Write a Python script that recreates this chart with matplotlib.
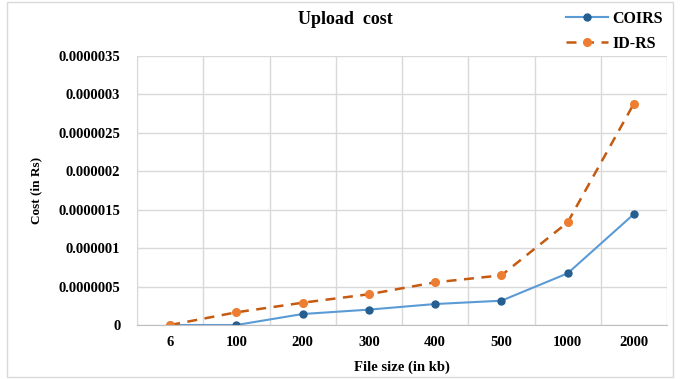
import numpy as np
import matplotlib.pyplot as plt
from matplotlib.patches import Rectangle

plt.rcParams['font.family'] = ['Liberation Serif', 'DejaVu Serif']

# data
sizes = ['6', '100', '200', '300', '400', '500', '1000', '2000']
coirs = [0.0, 0.0, 0.143e-6, 0.200e-6, 0.273e-6, 0.316e-6, 0.672e-6, 1.443e-6]
idrs = [0.0, 0.165e-6, 0.290e-6, 0.400e-6, 0.555e-6, 0.646e-6, 1.335e-6, 2.880e-6]
yticks = [0, 0.0000005, 0.000001, 0.0000015, 0.000002, 0.0000025, 0.000003, 0.0000035]
ytick_labels = ['0', '0.0000005', '0.000001', '0.0000015', '0.000002',
                '0.0000025', '0.000003', '0.0000035']

fig = plt.figure(figsize=(6.8, 3.79), dpi=100)
ax = fig.add_axes([137/680, 1 - 325/379, (667-137)/680, (325-56)/379])

x = np.arange(len(sizes))
ax.plot(x, coirs, color='#5B9BD5', lw=1.5, marker='o', ms=5,
        mfc='#255E91', mec='#255E91', label='COIRS')
ax.plot(x, idrs, color='#C55A11', lw=1.8, ls=(0, (4, 3)), marker='o', ms=5.5,
        mfc='#ED7D31', mec='#ED7D31', label='ID-RS')

ax.set_xlim(-0.5, len(sizes) - 0.5)
ax.set_ylim(0, 0.0000035)
ax.set_xticks(x)
ax.set_xticklabels(sizes, fontsize=10.5, fontweight='bold')
ax.set_yticks(yticks)
ax.set_yticklabels(ytick_labels, fontsize=10.5, fontweight='bold')
ax.set_xticks(np.arange(-0.5, len(sizes)), minor=True)
ax.tick_params(which='both', length=0)
ax.tick_params(axis='x', pad=8)
ax.tick_params(axis='y', pad=12)
ax.grid(True, axis='y', color='#D9D9D9', lw=1)
ax.grid(True, axis='x', which='minor', color='#D9D9D9', lw=1)
for s in ['top', 'right']:
    ax.spines[s].set_visible(False)
ax.spines['left'].set_color('#D9D9D9')
ax.spines['bottom'].set_color('#BFBFBF')

ax.set_xlabel('File size (in kb)', fontsize=10.5, fontweight='bold', labelpad=8)
ax.set_ylabel('Cost (in Rs)', fontsize=9.5, fontweight='bold', labelpad=12)
fig.text(345/680, 1 - 20/379, 'Upload  cost', ha='center', va='center',
         fontsize=13, fontweight='bold')

fig.legend(loc='upper right', bbox_to_anchor=(672/680, 1 - 2/379), frameon=False,
           prop={'weight': 'bold', 'size': 11.5}, handlelength=2.6,
           handletextpad=0.3, labelspacing=0.55, borderpad=0.05)

fig.patches.append(Rectangle((7/680, 2/379), 1 - 14/680, 1 - 4/379,
                             transform=fig.transFigure, fill=False,
                             edgecolor='#D9D9D9', lw=1))

fig.savefig('out.png', dpi=100)
